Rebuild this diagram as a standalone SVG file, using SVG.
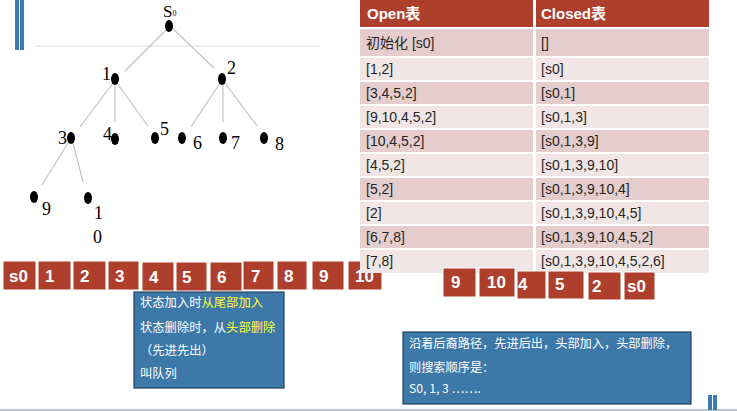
<svg xmlns="http://www.w3.org/2000/svg" width="737" height="411" viewBox="0 0 737 411">
<style>
.bar{fill:#3b7ab5}
.edge{stroke:#c4c4c4;stroke-width:1.2;fill:none}
.dot{fill:#000}
.lbl{font-family:"Liberation Serif",serif;font-size:18px;fill:#000}
.hd{fill:#ae3f2d}
.hdt{font-family:"Liberation Sans","Noto Sans CJK SC",sans-serif;font-size:15px;font-weight:bold;fill:#fff}
.dk{fill:#e4cdcc}
.lt{fill:#f1e6e6}
.ct{font-family:"Liberation Sans","Noto Sans CJK SC",sans-serif;font-size:14px;fill:#262626}
.q{fill:#ae3f2d;stroke:#fff;stroke-width:1}
.qt{font-family:"Liberation Sans",sans-serif;font-size:17px;font-weight:bold;fill:#fff}
.note{fill:#3c78a8;stroke:#25415f;stroke-width:1.2}
.nt{font-family:"Noto Sans CJK SC",sans-serif;font-size:12.3px;fill:#fff}
.nt2{font-family:"Noto Sans CJK SC",sans-serif;font-size:12.2px;fill:#fff}
.y{fill:#ffff33}
</style>
<rect width="737" height="411" fill="#fff"/>
<g id="decor">
<rect class="bar" x="15" y="0" width="4" height="50"/>
<rect class="bar" x="20" y="0" width="4" height="50"/>
<line x1="35" y1="46" x2="320" y2="46" stroke="#dadada" stroke-width="1"/>
<line x1="0" y1="410" x2="737" y2="410" stroke="#a9b1bc" stroke-width="1.5"/>
<rect class="bar" x="708" y="395" width="4" height="15"/>
<rect class="bar" x="713" y="395" width="4" height="15"/>
</g>
<g id="connectors">
<line class="edge" x1="168" y1="28" x2="125" y2="71"/>
<line class="edge" x1="172" y1="28" x2="214" y2="68"/>
<line class="edge" x1="113" y1="83" x2="80" y2="127"/>
<line class="edge" x1="115" y1="85" x2="115" y2="122"/>
<line class="edge" x1="117" y1="83" x2="148" y2="126"/>
<line class="edge" x1="220" y1="83" x2="191" y2="127"/>
<line class="edge" x1="223" y1="85" x2="223" y2="122"/>
<line class="edge" x1="225" y1="83" x2="257" y2="126"/>
<line class="edge" x1="68" y1="143" x2="42" y2="185"/>
<line class="edge" x1="73" y1="143" x2="83" y2="182"/>
</g>
<g id="node-s0"><ellipse class="dot" cx="169" cy="26" rx="4" ry="6"/><text class="lbl" x="163" y="17" style="font-size:17px">S</text><text class="lbl" x="172.5" y="16" style="font-size:8px">0</text></g>
<g id="node-1"><ellipse class="dot" cx="115" cy="79" rx="4" ry="6"/><text class="lbl" x="102" y="80">1</text></g>
<g id="node-2"><ellipse class="dot" cx="222" cy="79" rx="4" ry="6"/><text class="lbl" x="227" y="74">2</text></g>
<g id="node-3"><ellipse class="dot" cx="71" cy="138" rx="4" ry="6"/><text class="lbl" x="58" y="144">3</text></g>
<g id="node-4"><ellipse class="dot" cx="115" cy="139" rx="4" ry="6"/><text class="lbl" x="103" y="140">4</text></g>
<g id="node-5"><ellipse class="dot" cx="155" cy="138" rx="4" ry="6"/><text class="lbl" x="160" y="135">5</text></g>
<g id="node-6"><ellipse class="dot" cx="182" cy="138" rx="4" ry="6"/><text class="lbl" x="193" y="149">6</text></g>
<g id="node-7"><ellipse class="dot" cx="223" cy="138" rx="4" ry="6"/><text class="lbl" x="231" y="149">7</text></g>
<g id="node-8"><ellipse class="dot" cx="264" cy="138" rx="4" ry="6"/><text class="lbl" x="275" y="150">8</text></g>
<g id="node-9"><ellipse class="dot" cx="34" cy="197" rx="4" ry="6"/><text class="lbl" x="42" y="215">9</text></g>
<g id="node-10"><ellipse class="dot" cx="88" cy="198" rx="4" ry="6"/><text class="lbl" x="94" y="219">1</text><text class="lbl" x="93" y="243">0</text></g>
<g id="queue">
<rect class="q" x="3" y="261" width="33" height="29"/><text class="qt" x="9" y="282">s0</text>
<rect class="q" x="38" y="261" width="33" height="29"/><text class="qt" x="45" y="282">1</text>
<rect class="q" x="73" y="261" width="33" height="29"/><text class="qt" x="80" y="282">2</text>
<rect class="q" x="108" y="261" width="31" height="29"/><text class="qt" x="115" y="282">3</text>
<rect class="q" x="142" y="262" width="32" height="29"/><text class="qt" x="149" y="283">4</text>
<rect class="q" x="176" y="262" width="31" height="29"/><text class="qt" x="182" y="283">5</text>
<rect class="q" x="210" y="262" width="32" height="29"/><text class="qt" x="217" y="283">6</text>
<rect class="q" x="243" y="261" width="31" height="29"/><text class="qt" x="251" y="282">7</text>
<rect class="q" x="277" y="261" width="30" height="29"/><text class="qt" x="284" y="282">8</text>
<rect class="q" x="312" y="261" width="32" height="29"/><text class="qt" x="319" y="282">9</text>
<rect class="q" x="348" y="261" width="34" height="29"/><text class="qt" x="355" y="282">10</text>
</g>
<g id="table">
<rect class="hd" x="360" y="0" width="173" height="27"/><rect class="hd" x="536" y="0" width="173" height="27"/>
<text class="hdt" x="367" y="19">Open表</text><text class="hdt" x="541" y="19">Closed表</text>
<rect class="dk" x="360" y="29" width="173" height="27"/><rect class="dk" x="536" y="29" width="173" height="27"/>
<text class="ct" x="366" y="48">初始化 [s0]</text><text class="ct" x="541" y="48">[]</text>
<rect class="lt" x="360" y="58" width="173" height="22"/><rect class="lt" x="536" y="58" width="173" height="22"/>
<text class="ct" x="366" y="74">[1,2]</text><text class="ct" x="541" y="74">[s0]</text>
<rect class="dk" x="360" y="82" width="173" height="22"/><rect class="dk" x="536" y="82" width="173" height="22"/>
<text class="ct" x="366" y="98">[3,4,5,2]</text><text class="ct" x="541" y="98">[s0,1]</text>
<rect class="lt" x="360" y="106" width="173" height="22"/><rect class="lt" x="536" y="106" width="173" height="22"/>
<text class="ct" x="366" y="122">[9,10,4,5,2]</text><text class="ct" x="541" y="122">[s0,1,3]</text>
<rect class="dk" x="360" y="130" width="173" height="22"/><rect class="dk" x="536" y="130" width="173" height="22"/>
<text class="ct" x="366" y="146">[10,4,5,2]</text><text class="ct" x="541" y="146">[s0,1,3,9]</text>
<rect class="lt" x="360" y="154" width="173" height="22"/><rect class="lt" x="536" y="154" width="173" height="22"/>
<text class="ct" x="366" y="170">[4,5,2]</text><text class="ct" x="541" y="170">[s0,1,3,9,10]</text>
<rect class="dk" x="360" y="178" width="173" height="22"/><rect class="dk" x="536" y="178" width="173" height="22"/>
<text class="ct" x="366" y="194">[5,2]</text><text class="ct" x="541" y="194">[s0,1,3,9,10,4]</text>
<rect class="lt" x="360" y="202" width="173" height="22"/><rect class="lt" x="536" y="202" width="173" height="22"/>
<text class="ct" x="366" y="218">[2]</text><text class="ct" x="541" y="218">[s0,1,3,9,10,4,5]</text>
<rect class="dk" x="360" y="226" width="173" height="22"/><rect class="dk" x="536" y="226" width="173" height="22"/>
<text class="ct" x="366" y="242">[6,7,8]</text><text class="ct" x="541" y="242">[s0,1,3,9,10,4,5,2]</text>
<rect class="lt" x="360" y="250" width="173" height="23"/><rect class="lt" x="536" y="250" width="173" height="23"/>
<text class="ct" x="366" y="266">[7,8]</text><text class="ct" x="541" y="266">[s0,1,3,9,10,4,5,2,6]</text>
</g>
<g id="stack">
<rect class="q" x="443" y="268" width="33" height="29"/><text class="qt" x="451" y="288">9</text>
<rect class="q" x="479" y="268" width="36" height="29"/><text class="qt" x="487" y="288">10</text>
<rect class="q" x="517" y="271" width="29" height="28"/><text class="qt" x="518" y="290">4</text>
<rect class="q" x="548" y="271" width="36" height="28"/><text class="qt" x="555" y="290">5</text>
<rect class="q" x="588" y="272" width="33" height="28"/><text class="qt" x="592" y="292">2</text>
<rect class="q" x="624" y="272" width="31" height="28"/><text class="qt" x="627" y="292">s0</text>
</g>
<g id="note-queue">
<rect class="note" x="134" y="292" width="150" height="96"/>
<text class="nt" x="140" y="307">状态加入时<tspan class="y">从尾部加入</tspan></text>
<text class="nt" x="140" y="332">状态删除时，从<tspan class="y">头部删除</tspan></text>
<text class="nt" x="140" y="355">（先进先出）</text>
<text class="nt" x="140" y="378">叫队列</text>
</g>
<g id="note-stack">
<rect class="note" x="403" y="332" width="288" height="72"/>
<text class="nt2" x="409" y="348">沿着后裔路径，先进后出，头部加入，头部删除，</text>
<text class="nt2" x="409" y="372">则搜索顺序是：</text>
<text class="nt2" x="409" y="393">S0, 1, 3 …….</text>
</g>
</svg>
